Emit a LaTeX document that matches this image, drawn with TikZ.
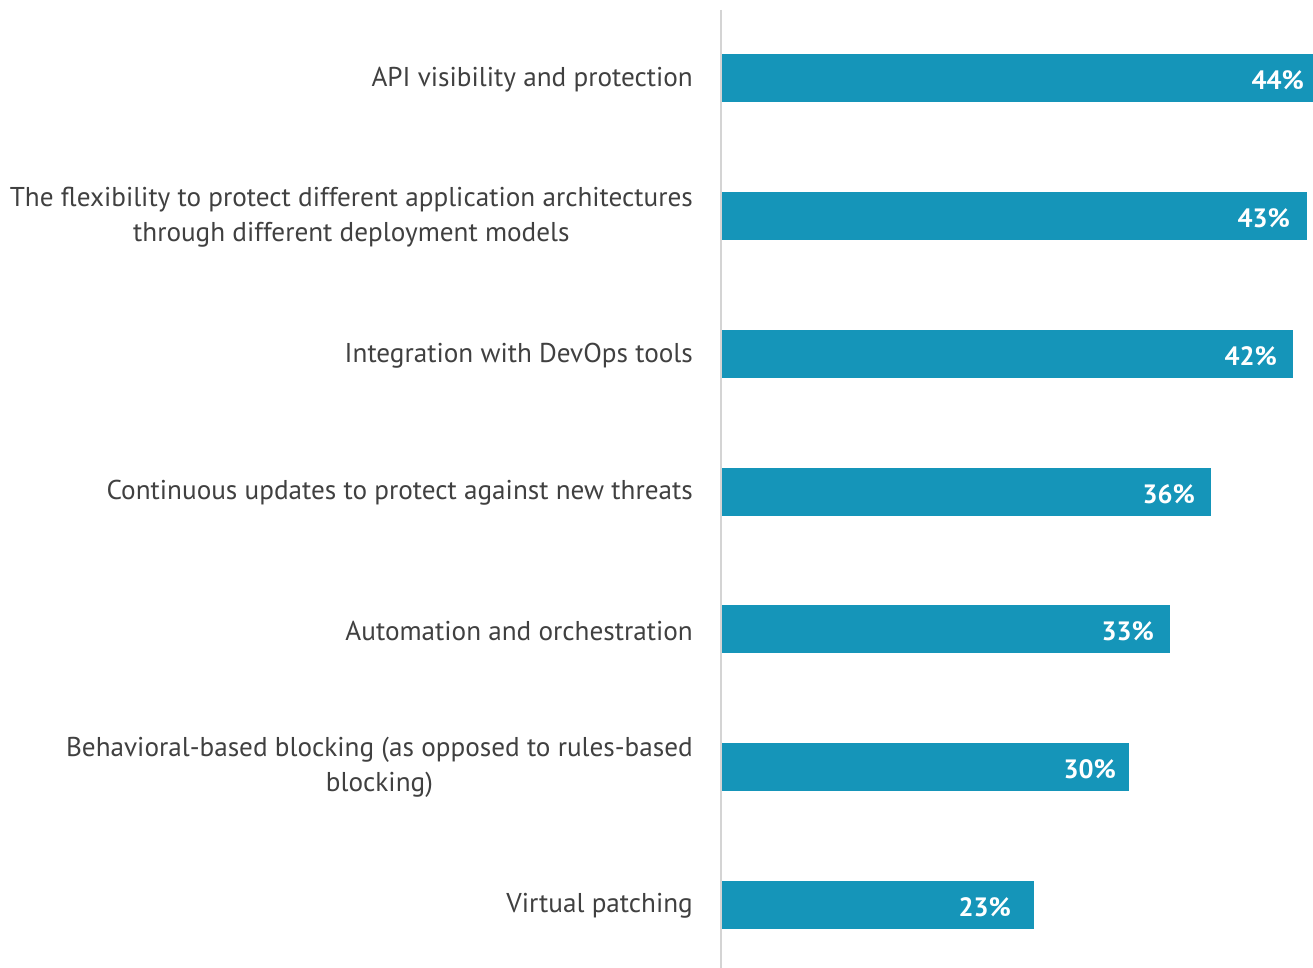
\documentclass[tikz,border=0pt]{standalone}
\usepackage{fontspec}
\setmainfont{PT Sans}
\definecolor{barc}{HTML}{1595B9}
\definecolor{txt}{HTML}{404040}
\definecolor{axisc}{HTML}{D4D4D4}
\begin{document}
\begin{tikzpicture}[x=1pt,y=-1pt,
  bar/.style={fill=barc,draw=none},
  lab/.style={anchor=east,align=right,text=txt,font=\fontsize{27.2}{35}\selectfont,inner sep=0pt},
  val/.style={anchor=east,text=white,font=\fontsize{26.5}{30}\selectfont\bfseries,inner sep=0pt}]
\useasboundingbox (0,0) rectangle (1313,968);
\foreach \c/\e/\r/\v [count=\i] in {78/1313/1304/44,216/1307/1290/43,354/1293/1277/42,492/1211/1195/36,629/1170/1154/33,767/1129/1116/30,905/1034/1011/23}{
  \fill[bar] (722,\c-24) rectangle (\e,\c+24);
  \node[val] (v\i) at (\r,\c+2.5) {\v\%};
}
\draw[axisc,line width=2pt] (721,10) -- (721,968);
\node[lab] (l1) at (693,79.5) {API visibility and protection};
\node[lab,align=center,anchor=east] (l2) at (693,217.5) {The flexibility to protect different application architectures\\through different deployment models};
\node[lab] (l3) at (693,355.5) {Integration with DevOps tools};
\node[lab] (l4) at (693,492.5) {Continuous updates to protect against new threats};
\node[lab] (l5) at (693,630.5) {Automation and orchestration};
\node[lab,align=center] (l6) at (693,767.5) {Behavioral-based blocking (as opposed to rules-based\\blocking)};
\node[lab] (l7) at (693,905.5) {Virtual patching};
\end{tikzpicture}
\end{document}
